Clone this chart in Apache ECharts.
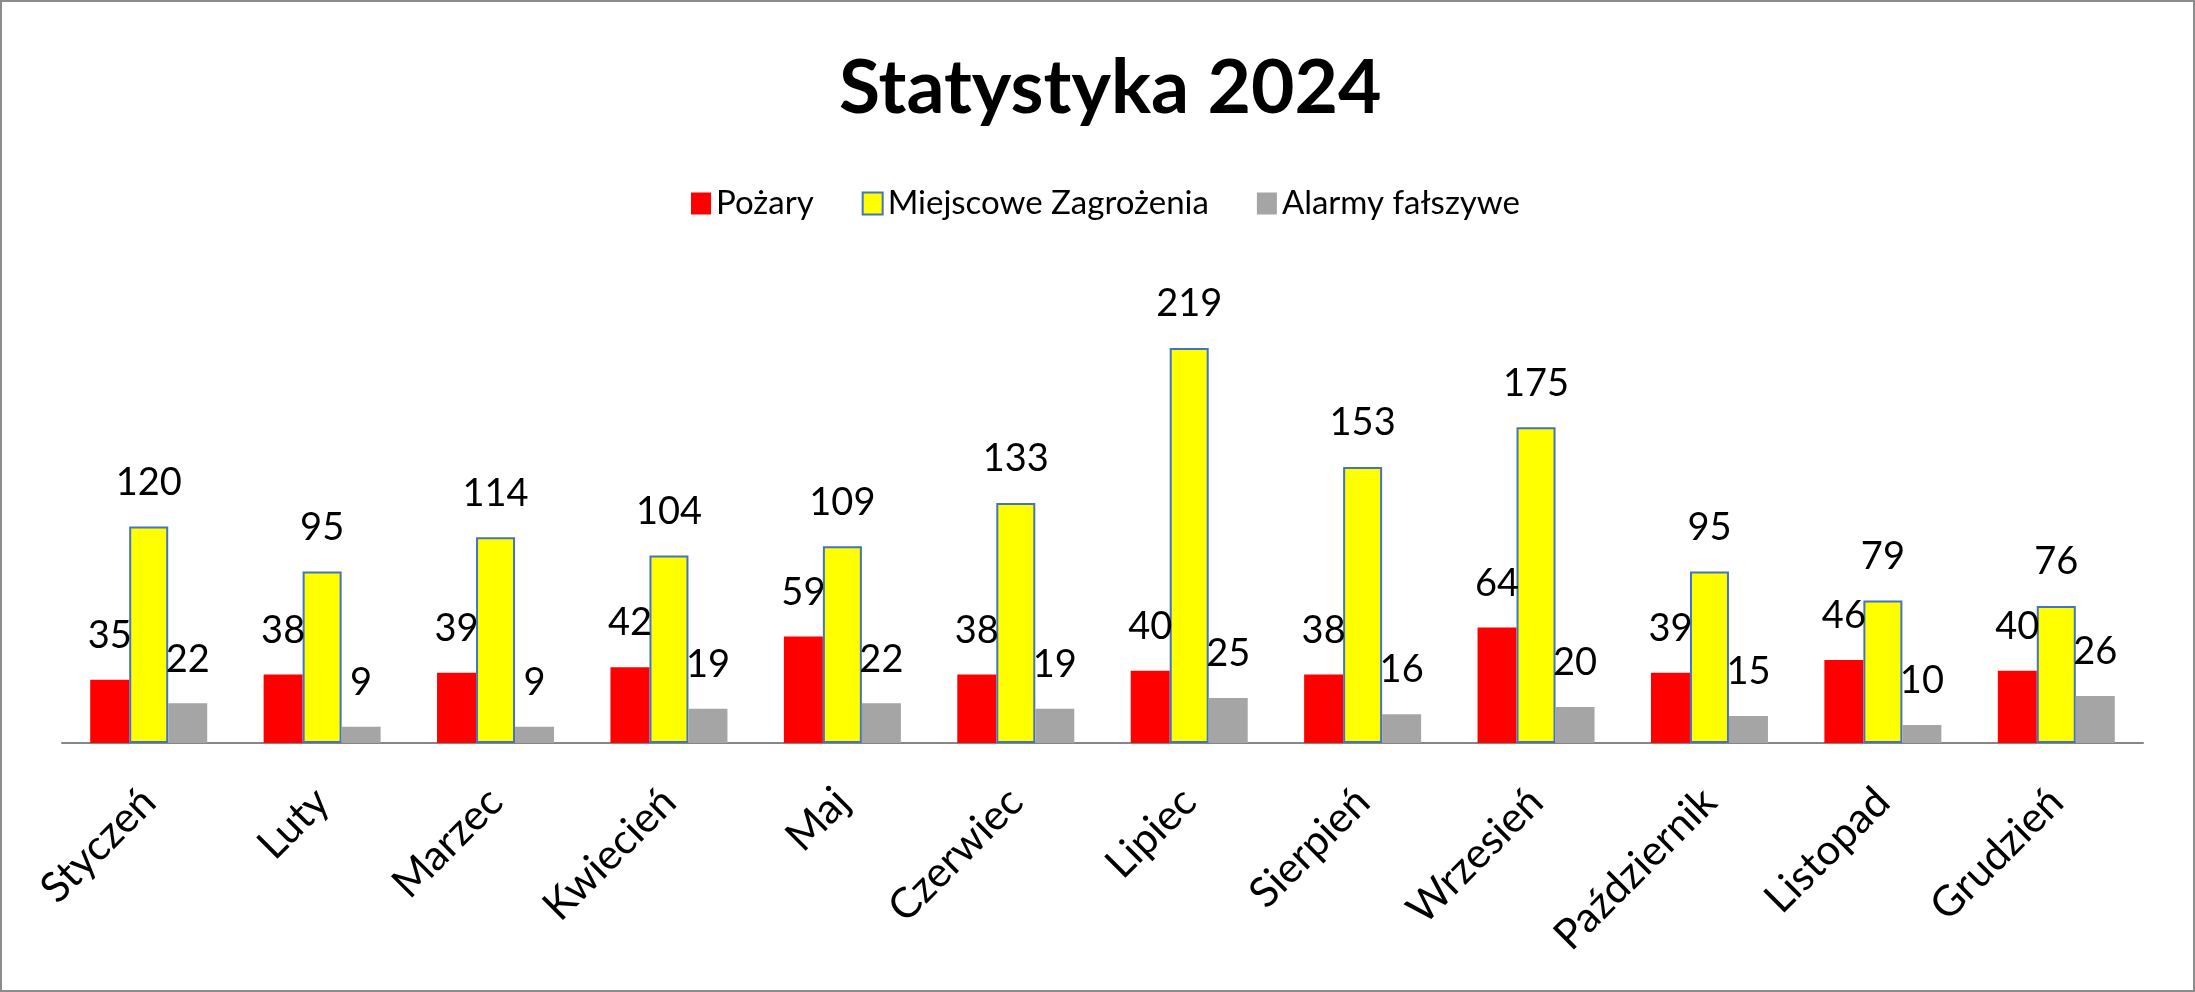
<!DOCTYPE html>
<html>
<head>
<meta charset="utf-8">
<script src="https://cdn.jsdelivr.net/npm/echarts@6/dist/echarts.min.js"></script>
<style>
html,body{margin:0;padding:0;background:#fff;}
#c{position:absolute;left:0;top:0;width:2195px;height:992px;}
#b{position:absolute;left:0;top:0;width:2195px;height:992px;box-sizing:border-box;border:2px solid #8c8c8c;pointer-events:none;}
</style>
</head>
<body>
<div id="c"></div>
<div id="b"></div>
<script>
const categories = ['Styczeń','Luty','Marzec','Kwiecień','Maj','Czerwiec','Lipiec','Sierpień','Wrzesień','Październik','Listopad','Grudzień'];
const pozary = [35,38,39,42,59,38,40,38,64,39,46,40];
const miejscowe = [120,95,114,104,109,133,219,153,175,95,79,76];
const alarmy = [22,9,9,19,22,19,25,16,20,15,10,26];
const seriesNames = ['Pożary','Miejscowe Zagrożenia','Alarmy fałszywe'];

const FONT = 'Lato';
const labelCfg = {show:true, position:'top', distance:25, color:'#000', fontSize:38, fontFamily:FONT};

const chart = echarts.init(document.getElementById('c'));
chart.setOption({
  backgroundColor:'#fff',
  animation:false,
  title:{text:'Statystyka 2024', left:834, top:46,
    textStyle:{fontFamily:FONT, fontWeight:'bold', fontSize:75, color:'#000'}},
  legend:{top:182, left:686, icon:'rect', itemWidth:20, itemHeight:22, itemGap:48,
    textStyle:{fontFamily:FONT, fontSize:33, color:'#000'}},
  grid:{left:62, right:52, top:292, bottom:249, containLabel:false},
  xAxis:{type:'category', data:categories,
    axisLine:{lineStyle:{color:'#868686', width:2}},
    axisTick:{show:false},
    axisLabel:{rotate:45, margin:52, fontFamily:FONT, fontSize:42, color:'#000', interval:0}},
  yAxis:{type:'value', min:0, max:250, show:false, splitLine:{show:false}},
  series:[
    {name:seriesNames[0], type:'bar', data:pozary, barWidth:39, barGap:'0%',
      itemStyle:{color:'#FF0000'}, label:labelCfg},
    {name:seriesNames[1], type:'bar', data:miejscowe, barWidth:39, barGap:'0%',
      itemStyle:{color:'#FFFF00', borderColor:'#4472C4', borderWidth:2}, label:labelCfg},
    {name:seriesNames[2], type:'bar', data:alarmy, barWidth:39, barGap:'0%',
      itemStyle:{color:'#A5A5A5'}, label:labelCfg}
  ]
});
</script>
</body>
</html>
